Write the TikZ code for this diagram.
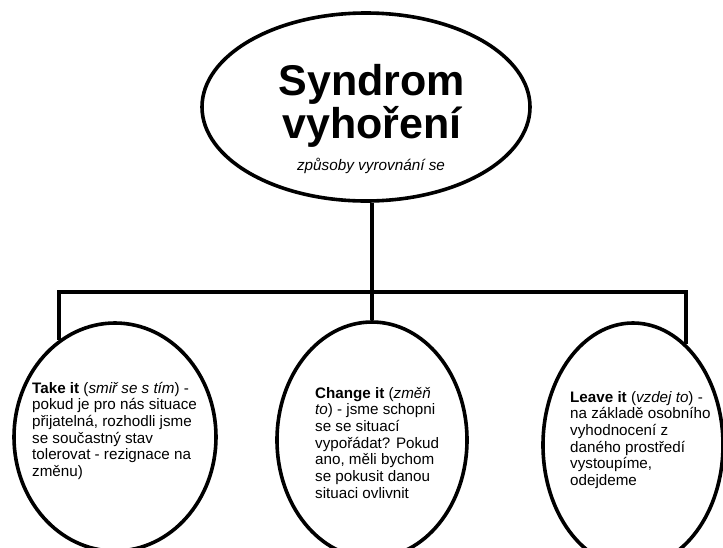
\documentclass[tikz,border=0pt]{standalone}
\usepackage{fontspec}
\setmainfont{Liberation Sans}
\usetikzlibrary{shapes.geometric}
\begin{document}
\begin{tikzpicture}[x=1pt,y=-1pt,
  oval/.style={ellipse,draw,line width=3.6pt,inner sep=0pt},
  conn/.style={line width=4pt},
  body/.style={font=\fontsize{15.2}{16.7}\selectfont,align=left,anchor=base west,inner sep=0pt}]
\useasboundingbox (0,0) rectangle (723,547);
\clip (0,0) rectangle (723,547);
% ellipses
\node[oval,minimum width=328pt,minimum height=188pt] (top) at (366,107) {};
\node[oval,minimum width=202pt,minimum height=228pt] (left) at (115,437) {};
\node[oval,minimum width=190pt,minimum height=236pt] (mid) at (372,440) {};
\node[oval,minimum width=180pt,minimum height=244pt] (right) at (633,445) {};
% connectors
\coordinate (bar) at (373,292);
\draw[conn] (mid.north |- top.south) -- (mid.north);
\draw[conn] (left.120) -- (left.120 |- bar) -- (right.62 |- bar) -- (right.62);
% title text (anchor base = baseline of last line)
\node[font=\fontsize{43}{41}\selectfont\bfseries,align=center,anchor=base,inner sep=0pt] (title) at (372,138) {Syndrom\\vyhoření};
\node[font=\fontsize{15.3}{16}\selectfont\itshape,anchor=base,inner sep=0pt] (sub) at (371,170) {způsoby vyrovnání se};
% body texts
\node[body] (ltext) at (32,476.5) {\textbf{Take it} (\textit{smiř se s tím}) -\\pokud je pro nás situace\\přijatelná, rozhodli jsme\\se součastný stav\\tolerovat - rezignace na\\změnu)};
\node[body] (mtext) at (315,498.2) {\textbf{Change it} (\textit{změň}\\\textit{to}) - jsme schopni\\se se situací\\vypořádat? Pokud\\ano, měli bychom\\se pokusit danou\\situaci ovlivnit};
\node[body] (rtext) at (570,485.5) {\textbf{Leave it} (\textit{vzdej to}) -\\na základě osobního\\vyhodnocení z\\daného prostředí\\vystoupíme,\\odejdeme};
\end{tikzpicture}
\end{document}
